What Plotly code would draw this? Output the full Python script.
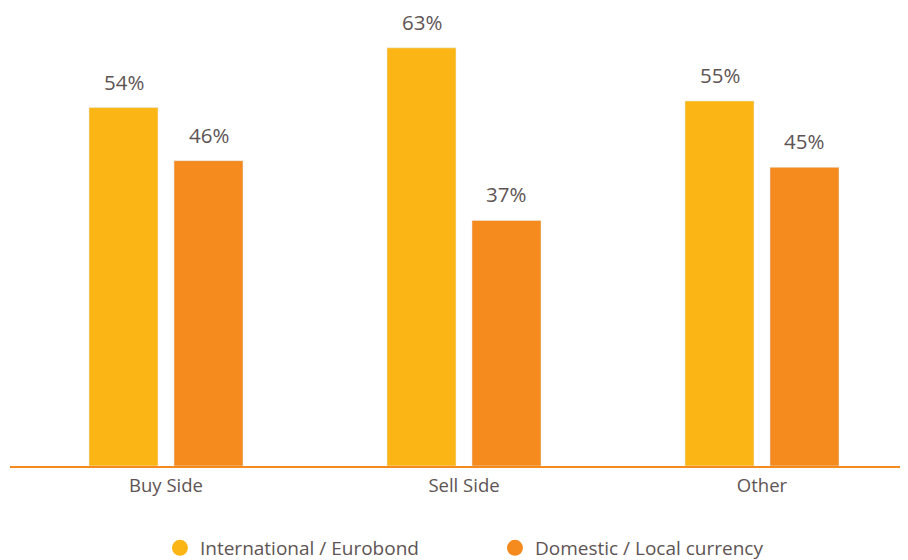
import plotly.graph_objects as go

categories = ["Buy Side", "Sell Side", "Other"]
international = [54, 63, 55]
domestic = [46, 37, 45]
series_names = ["International / Eurobond", "Domestic / Local currency"]
colors = ["#FBB615", "#F58A1F"]
text_color = "#5E5454"
font_family = "Open Sans, Noto Sans, sans-serif"

fig = go.Figure()
for name, vals, col in zip(series_names, [international, domestic], colors):
    fig.add_trace(go.Bar(x=categories, y=vals, name=name, marker_color=col,
                         showlegend=False))
for name, col in zip(series_names, colors):
    fig.add_trace(go.Scatter(x=[None], y=[None], mode="markers", name=name,
                             marker=dict(symbol="circle", size=16, color=col)))

# value labels
for i, (name, vals) in enumerate(zip(series_names, [international, domestic])):
    off = -0.1426 if i == 0 else 0.1426
    for j, v in enumerate(vals):
        fig.add_annotation(x=j + off, y=v, text=f"{v}%", showarrow=False,
                           yanchor="bottom", yshift=10,
                           font=dict(size=20.5, color=text_color, family=font_family))

fig.update_layout(
    width=908, height=560,
    margin=dict(l=2, r=0, t=0, b=102, autoexpand=False),
    plot_bgcolor="white", paper_bgcolor="white",
    barmode="group", bargap=0.4295, bargroupgap=0.188,
    font=dict(family=font_family, color=text_color, size=17),
    xaxis=dict(range=[-0.5235, 2.5168], showline=True, linecolor="#F58A1F",
               linewidth=2, showgrid=False, zeroline=False, ticks="",
               tickfont=dict(size=18.5, color=text_color), ticklabelstandoff=2),
    yaxis=dict(range=[0, 69.0], visible=False),
    legend=dict(orientation="h", x=0.5363, xanchor="center", xref="container",
                y=0.0357, yanchor="middle", yref="container",
                font=dict(size=19, color=text_color), entrywidth=290, itemsizing="trace"),
)
fig.write_html("out.html")
